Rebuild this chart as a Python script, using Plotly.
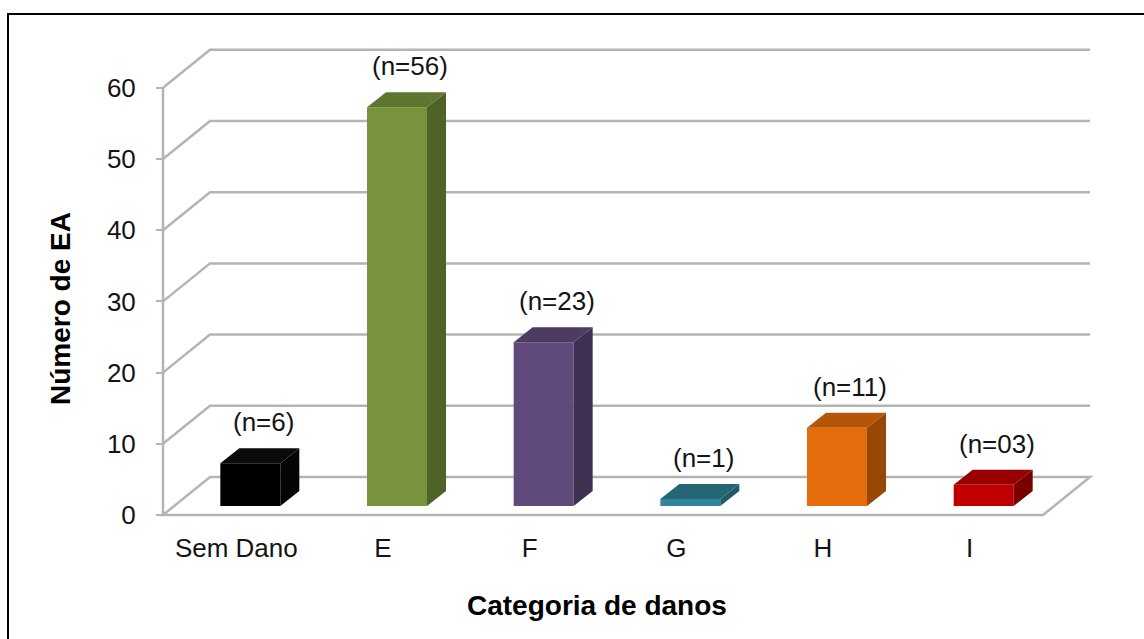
import plotly.graph_objects as go

# ---- data -------------------------------------------------------------
categories = ["Sem Dano", "E", "F", "G", "H", "I"]
counts = [6, 56, 23, 1, 11, 3]
count_labels = ["(n=6)", "(n=56)", "(n=23)", "(n=1)", "(n=11)", "(n=03)"]
y_ticks = [0, 10, 20, 30, 40, 50, 60]

# ---- colours (front, top, side faces of each column) -------------------
front_colors = ["#000000", "#77933C", "#604A7B", "#31859C", "#E46C0A", "#C00000"]
top_colors = ["#0A0A0A", "#5F7630", "#4D3B63", "#256675", "#B45508", "#980000"]
side_colors = ["#050505", "#4F6228", "#403152", "#215A68", "#974806", "#7A0000"]

GRID = "#B4B4B4"
FONT = "Liberation Sans, Arial, sans-serif"
TEXT = "#141414"

# ---- geometry (pixels) ------------------------------------------------
W, H = 1144, 639
X0_PX, X_STEP_PX = 163.0, 146.67      # left of the floor, width of one category
Y0_PX, Y_UNIT_PX = 515.0, 7.12        # value 0 on the front plane, pixels per unit
WALL_DX_PX, WALL_DY_PX = 47.0, 38.0   # depth of the floor / side wall
BAR_W_PX, BAR_SHIFT_PX = 60.0, 14.0   # column width and shift inside the floor
BAR_LIFT_PX = 9.0                     # columns stand a little behind the front edge
BAR_DX_PX, BAR_DY_PX = 19.0, 15.0     # column depth
LABEL_DX_PX, LABEL_DY_PX = 27.0, 26.0

ux = lambda px: px / X_STEP_PX
uy = lambda px: px / Y_UNIT_PX

x_range = [-0.5 - ux(X0_PX), -0.5 + ux(W - X0_PX)]
y_range = [-uy(H - Y0_PX), uy(Y0_PX)]

n = len(categories)
left, right = -0.5, n - 0.5
wdx, wdy = ux(WALL_DX_PX), uy(WALL_DY_PX)
bw = ux(BAR_W_PX)
shift = ux(BAR_SHIFT_PX)
base = uy(BAR_LIFT_PX)
bdx, bdy = ux(BAR_DX_PX), uy(BAR_DY_PX)

fig = go.Figure()

# front faces of the columns
fig.add_trace(go.Bar(
    x=list(range(n)), y=counts, base=base, width=bw, offset=shift - bw / 2,
    marker=dict(color=front_colors, line=dict(width=0)),
    hoverinfo="skip", showlegend=False,
))

shapes = []

# floor
shapes.append(dict(
    type="path", xref="x", yref="y", layer="below",
    path=f"M {left},0 L {right},0 L {right + wdx},{wdy} L {left + wdx},{wdy} Z",
    fillcolor="white", line=dict(color=GRID, width=2.5),
))

# gridlines on the side and back walls
for v in y_ticks[1:]:
    shapes.append(dict(
        type="path", xref="x", yref="y", layer="below",
        path=f"M {left},{v} L {left + wdx},{v + wdy} L {right + wdx},{v + wdy}",
        line=dict(color=GRID, width=2.5),
    ))

# value axis line
shapes.append(dict(
    type="line", xref="x", yref="y", layer="below",
    x0=left, x1=left, y0=0, y1=y_ticks[-1],
    line=dict(color=GRID, width=2.5),
))

# top and side faces of the columns
for i, v in enumerate(counts):
    xl = i + shift - bw / 2
    xr = i + shift + bw / 2
    top = base + v
    shapes.append(dict(
        type="path", xref="x", yref="y", layer="above",
        path=(f"M {xr},{base} L {xr + bdx},{base + bdy} "
              f"L {xr + bdx},{top + bdy} L {xr},{top} Z"),
        fillcolor=side_colors[i], line=dict(width=0),
    ))
    shapes.append(dict(
        type="path", xref="x", yref="y", layer="above",
        path=(f"M {xl},{top} L {xr},{top} "
              f"L {xr + bdx},{top + bdy} L {xl + bdx},{top + bdy} Z"),
        fillcolor=top_colors[i], line=dict(width=0),
    ))

# chart frame
shapes.append(dict(
    type="rect", xref="paper", yref="paper",
    x0=8 / W, x1=1.02, y0=-0.02, y1=1 - 14 / H,
    line=dict(color="#000000", width=2), fillcolor="rgba(0,0,0,0)",
))

annotations = []
for i, v in enumerate(counts):
    annotations.append(dict(
        x=i + ux(LABEL_DX_PX), y=base + v + bdy + uy(LABEL_DY_PX),
        xref="x", yref="y", text=count_labels[i], showarrow=False,
        font=dict(family=FONT, size=26, color=TEXT),
        xanchor="center", yanchor="middle",
    ))

annotations.append(dict(
    x=60 / W, y=1 - 309 / H, xref="paper", yref="paper",
    text="<b>Número de EA</b>", textangle=-90, showarrow=False,
    font=dict(family=FONT, size=28, color="#000000"),
    xanchor="center", yanchor="middle",
))
annotations.append(dict(
    x=597 / W, y=1 - 605 / H, xref="paper", yref="paper",
    text="<b>Categoria de danos</b>", showarrow=False,
    font=dict(family=FONT, size=28, color="#000000"),
    xanchor="center", yanchor="middle",
))

fig.update_layout(
    width=W, height=H,
    margin=dict(l=0, r=0, t=0, b=0),
    paper_bgcolor="white", plot_bgcolor="white",
    showlegend=False,
    shapes=shapes, annotations=annotations,
    xaxis=dict(
        range=x_range, anchor="free", position=1 - Y0_PX / H,
        tickmode="array", tickvals=list(range(n)), ticktext=categories,
        showgrid=False, zeroline=False, showline=False, ticks="",
        ticklabelstandoff=15,
        tickfont=dict(family=FONT, size=26, color=TEXT),
        fixedrange=True,
    ),
    yaxis=dict(
        range=y_range, anchor="free", position=X0_PX / W,
        tickmode="array", tickvals=y_ticks,
        showgrid=False, zeroline=False, showline=False,
        ticks="outside", ticklen=7, tickwidth=2, tickcolor=GRID,
        ticklabelstandoff=15,
        tickfont=dict(family=FONT, size=26, color=TEXT),
        fixedrange=True,
    ),
)

fig.write_html("out.html")
